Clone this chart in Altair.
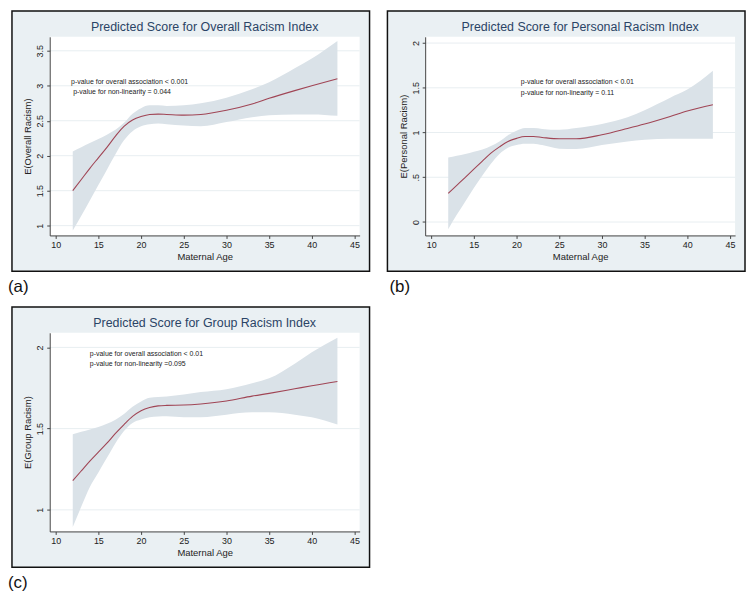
import altair as alt
import pandas as pd

# ---------------- data ----------------
AGES = [12, 13, 14, 15, 16, 17, 18, 19, 20, 21, 22, 23, 25, 27, 30, 33, 35, 38, 40, 43]

FIT_A = [1.50, 1.66, 1.82, 1.97, 2.12, 2.28, 2.42, 2.51, 2.56, 2.59, 2.595, 2.59, 2.58, 2.59, 2.65, 2.74, 2.82, 2.93, 3.00, 3.10]
HI_A = [2.06, 2.12, 2.18, 2.24, 2.30, 2.37, 2.47, 2.60, 2.68, 2.72, 2.72, 2.71, 2.72, 2.75, 2.83, 2.95, 3.05, 3.25, 3.39, 3.64]
LO_A = [0.93, 1.14, 1.36, 1.58, 1.80, 2.02, 2.22, 2.35, 2.42, 2.45, 2.46, 2.45, 2.43, 2.42, 2.48, 2.55, 2.58, 2.59, 2.59, 2.57]

FIT_B = [0.32, 0.41, 0.50, 0.59, 0.68, 0.77, 0.84, 0.90, 0.935, 0.955, 0.955, 0.945, 0.93, 0.93, 0.975, 1.045, 1.095, 1.18, 1.24, 1.31]
HI_B = [0.72, 0.74, 0.76, 0.785, 0.81, 0.85, 0.90, 0.97, 1.02, 1.05, 1.05, 1.04, 1.03, 1.05, 1.095, 1.17, 1.25, 1.39, 1.48, 1.69]
LO_B = [-0.08, 0.08, 0.23, 0.38, 0.52, 0.65, 0.76, 0.83, 0.86, 0.875, 0.875, 0.86, 0.82, 0.815, 0.86, 0.90, 0.92, 0.93, 0.93, 0.93]

FIT_C = [1.18, 1.24, 1.30, 1.355, 1.41, 1.47, 1.525, 1.575, 1.61, 1.63, 1.64, 1.643, 1.645, 1.652, 1.67, 1.70, 1.717, 1.745, 1.764, 1.79]
HI_C = [1.465, 1.48, 1.495, 1.51, 1.53, 1.555, 1.59, 1.635, 1.667, 1.69, 1.695, 1.698, 1.71, 1.725, 1.743, 1.78, 1.81, 1.90, 1.97, 2.06]
LO_C = [0.895, 1.02, 1.14, 1.23, 1.32, 1.41, 1.485, 1.535, 1.556, 1.57, 1.575, 1.576, 1.57, 1.57, 1.586, 1.60, 1.60, 1.586, 1.57, 1.525]

TITLES = ["Predicted Score for Overall Racism Index",
          "Predicted Score for Personal Racism Index",
          "Predicted Score for Group Racism Index"]
YTITLES = ["E(Overall Racism)", "E(Personal Racism)", "E(Group Racism)"]
XTITLE = "Maternal Age"
LABELS = ["(a)", "(b)", "(c)"]

XTICKS = [10, 15, 20, 25, 30, 35, 40, 45]
XDOMAIN = [9.3, 45.6]
YTICKS_A = [1, 1.5, 2, 2.5, 3, 3.5]
YTICKS_B = [0, 0.5, 1, 1.5, 2]
YTICKS_C = [1, 1.5, 2]
YDOM_A = [0.86, 3.7]
YDOM_B = [-0.15, 2.07]
YDOM_C = [0.867, 2.09]

ANN_A = ["p-value for overall association < 0.001", "p-value for non-linearity = 0.044"]
ANN_X_A = [11.8, 12.05]
ANN_Y_A = [3.06, 2.91]
ANN_B = ["p-value for overall association < 0.01", "p-value for non-linearity = 0.11"]
ANN_X_B = [20.5, 20.5]
ANN_Y_B = [1.563, 1.443]
ANN_C = ["p-value for overall association < 0.01", "p-value for non-linearity =0.095"]
ANN_X_C = [14.0, 14.0]
ANN_Y_C = [1.96, 1.895]

# ---------------- styling / layout ----------------
W, H = 312, 200
L, R, T, B = 38, 10, 26, 36
FONT = "Liberation Sans"
FRAME_BG = "#EAF0F3"
BAND = "#DAE2E8"
LINE = "#A04555"
GRID = "#E8EEF1"
TITLE_COLOR = "#2A4466"


def panel(fit, lo, hi, yticks, ydom, title, ytitle, label, label_dx, ann, ann_x, ann_y):
    df = pd.DataFrame({"age": AGES, "fit": fit, "lo": lo, "hi": hi})
    one = pd.DataFrame({"k": [0]})
    grid = pd.DataFrame({"fit": yticks})
    notes = pd.DataFrame({"age": ann_x, "fit": ann_y, "txt": ann})

    xs = alt.Scale(domain=XDOMAIN, nice=False, zero=False)
    ys = alt.Scale(domain=ydom, nice=False, zero=False)
    xax = alt.Axis(values=XTICKS, grid=False, format="d", zindex=1,
                   labelPadding=2, titlePadding=2)
    yax = alt.Axis(values=yticks, grid=False, zindex=1, labelAngle=270,
                   labelAlign="center", labelBaseline="bottom", labelPadding=2,
                   labelExpr="datum.value == 0.5 ? '.5' : format(datum.value, '~g')",
                   titlePadding=3)

    def X(f="age"):
        return alt.X(f"{f}:Q", scale=xs, axis=xax, title=XTITLE)

    def Y(f="fit"):
        return alt.Y(f"{f}:Q", scale=ys, axis=yax, title=ytitle)

    frame = alt.Chart(one).mark_rect(fill=FRAME_BG, stroke="#111111", strokeWidth=1.5).encode(
        x=alt.value(-L), x2=alt.value(W + R), y=alt.value(-T), y2=alt.value(H + B))
    plotbg = alt.Chart(one).mark_rect(fill="white").encode(
        x=alt.value(0), x2=alt.value(W), y=alt.value(0), y2=alt.value(H))
    rules = alt.Chart(grid).mark_rule(color=GRID, strokeWidth=1).encode(
        y=Y("fit"), x=alt.value(0), x2=alt.value(W))
    band = alt.Chart(df).mark_area(color=BAND, opacity=1, interpolate="monotone").encode(
        x=X(), y=Y("lo"), y2="hi:Q")
    line = alt.Chart(df).mark_line(color=LINE, strokeWidth=1.1, interpolate="monotone").encode(
        x=X(), y=Y("fit"))
    text = alt.Chart(notes).mark_text(align="left", baseline="middle", fontSize=7,
                                      color="#222222", font=FONT).encode(
        x=X(), y=Y("fit"), text="txt:N")
    ttl = alt.Chart(one).mark_text(align="center", baseline="middle", fontSize=12.5,
                                   color=TITLE_COLOR, font=FONT).encode(
        x=alt.value(W / 2), y=alt.value(-10), text=alt.value(title))
    lab = alt.Chart(one).mark_text(align="left", baseline="middle", fontSize=17,
                                   color="#111111", font=FONT).encode(
        x=alt.value(label_dx), y=alt.value(H + B + 16), text=alt.value(label))

    return alt.layer(frame, plotbg, rules, band, line, text, ttl, lab).properties(width=W, height=H)


pa = panel(FIT_A, LO_A, HI_A, YTICKS_A, YDOM_A, TITLES[0], YTITLES[0], LABELS[0], -42, ANN_A, ANN_X_A, ANN_Y_A)
pb = panel(FIT_B, LO_B, HI_B, YTICKS_B, YDOM_B, TITLES[1], YTITLES[1], LABELS[1], -36, ANN_B, ANN_X_B, ANN_Y_B)
pc = panel(FIT_C, LO_C, HI_C, YTICKS_C, YDOM_C, TITLES[2], YTITLES[2], LABELS[2], -42, ANN_C, ANN_X_C, ANN_Y_C)

chart = alt.concat(pa, pb, pc, columns=2, spacing={"row": 98, "column": 66}, bounds="flush").properties(
    padding=0
).configure(background="white", font=FONT).configure_view(strokeWidth=0).configure_axis(
    domainColor="#444444", tickColor="#444444", tickSize=3, domainWidth=1, tickWidth=1,
    labelColor="#222222", labelFont=FONT, labelFontSize=9,
    titleColor="#222222", titleFont=FONT, titleFontSize=9.5, titleFontWeight="normal")

chart.save("out.html", embed_options={"renderer": "svg", "actions": False})
